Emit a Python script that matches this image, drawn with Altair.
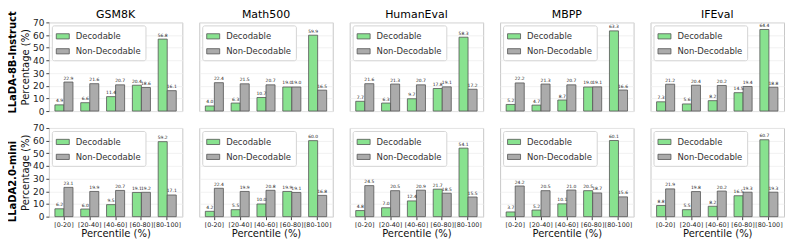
import altair as alt
import pandas as pd

percentiles = ["[0-20]", "[20-40]", "[40-60]", "[60-80]", "[80-100]"]
datasets = ["GSM8K", "Math500", "HumanEval", "MBPP", "IFEval"]
models = ["LLaDA-8B-Instruct", "LLaDA2.0-mini"]
series = ["Decodable", "Non-Decodable"]

# LLaDA-8B-Instruct
llada8b_decodable = {
    "GSM8K": [4.9, 6.6, 11.4, 20.4, 56.8],
    "Math500": [4.0, 6.3, 10.7, 19.0, 59.9],
    "HumanEval": [7.7, 6.3, 9.7, 17.8, 58.3],
    "MBPP": [5.2, 4.7, 8.7, 19.0, 63.3],
    "IFEval": [7.3, 5.6, 8.2, 14.5, 64.4],
}
llada8b_nondecodable = {
    "GSM8K": [22.9, 21.6, 20.7, 18.6, 16.1],
    "Math500": [22.4, 21.5, 20.7, 19.0, 16.5],
    "HumanEval": [21.6, 21.3, 20.7, 19.1, 17.2],
    "MBPP": [22.2, 21.3, 20.7, 19.1, 16.6],
    "IFEval": [21.2, 20.4, 20.2, 19.4, 18.8],
}
# LLaDA2.0-mini
llada2_decodable = {
    "GSM8K": [6.2, 6.0, 9.5, 19.1, 59.2],
    "Math500": [4.2, 5.5, 10.0, 19.9, 60.0],
    "HumanEval": [4.8, 7.0, 12.4, 21.7, 54.1],
    "MBPP": [3.7, 5.2, 10.1, 20.5, 60.1],
    "IFEval": [8.8, 5.5, 8.2, 16.5, 60.7],
}
llada2_nondecodable = {
    "GSM8K": [23.1, 19.9, 20.7, 19.2, 17.1],
    "Math500": [22.4, 19.9, 20.8, 19.1, 16.8],
    "HumanEval": [24.5, 20.5, 20.9, 18.5, 15.5],
    "MBPP": [24.2, 20.5, 21.0, 18.7, 15.6],
    "IFEval": [21.9, 19.8, 20.2, 19.3, 19.3],
}

model_data = [
    (llada8b_decodable, llada8b_nondecodable),
    (llada2_decodable, llada2_nondecodable),
]

GREEN = "#88E28F"
GRAY = "#ABABAB"
W, H = 134, 89
FONT = "DejaVu Sans"


def panel(row, col):
    ds = datasets[col]
    dec, nondec = model_data[row]
    recs = []
    for i, p in enumerate(percentiles):
        recs.append({"Percentile": p, "Series": "Decodable", "Value": dec[ds][i]})
        recs.append({"Percentile": p, "Series": "Non-Decodable", "Value": nondec[ds][i]})
    df = pd.DataFrame(recs)

    if row == 1:
        xaxis = alt.Axis(title="Percentile (%)", labelAngle=0, labelFontSize=6.4,
                         titleFontSize=10, titleFontWeight="normal", tickSize=3,
                         labelPadding=2, titlePadding=1, grid=False)
    else:
        xaxis = alt.Axis(title=None, labels=False, ticks=False, grid=False)

    if col == 0:
        yaxis = alt.Axis(title="Percentage (%)", values=list(range(0, 71, 10)),
                         labelFontSize=9, titleFontSize=10, titleFontWeight="normal",
                         tickSize=3, labelPadding=2, titlePadding=2, grid=True)
    else:
        yaxis = alt.Axis(title=None, labels=False, ticks=False,
                         values=list(range(0, 71, 10)), grid=True)

    base = alt.Chart(df).encode(
        x=alt.X("Percentile:N", sort=percentiles,
                scale=alt.Scale(paddingInner=0.3, paddingOuter=0.235), axis=xaxis),
        xOffset=alt.XOffset("Series:N", sort=series,
                            scale=alt.Scale(domain=series, paddingInner=0, paddingOuter=0)),
        y=alt.Y("Value:Q", scale=alt.Scale(domain=[0, 70], nice=False), axis=yaxis),
    )
    bars = base.mark_bar(stroke="#555555", strokeWidth=0.8).encode(
        color=alt.Color(
            "Series:N",
            scale=alt.Scale(domain=series, range=[GREEN, GRAY]),
            legend=alt.Legend(
                title=None, orient="top-left", offset=3, fillColor="white",
                strokeColor="#d4d4d4", cornerRadius=2, padding=4,
                labelFontSize=8.5, labelFont=FONT, labelColor="#333333",
                symbolType="M-1,-0.4H1V0.4H-1Z", symbolSize=170,
                symbolStrokeColor="#555555", symbolStrokeWidth=0.8,
                symbolOpacity=1, rowPadding=3, labelOffset=6,
            ),
        )
    )
    labels = base.mark_text(dy=-1.5, fontSize=4.5, baseline="bottom",
                            font=FONT, color="#222222").encode(
        text=alt.Text("Value:Q", format=".1f")
    )
    ch = alt.layer(bars, labels).properties(width=W, height=H)
    if row == 0:
        ch = ch.properties(title=alt.TitleParams(ds, fontSize=11, fontWeight="normal",
                                                 offset=(-2 if col == 0 else 2.5),
                                                 font=FONT))
    return ch


rows = []
for r in range(2):
    hc = alt.hconcat(*[panel(r, c) for c in range(5)], spacing=15).resolve_scale(
        color="independent").resolve_legend(color="independent").properties(
        title=alt.TitleParams(models[r], orient="left", anchor="middle",
                              fontSize=10, fontWeight="bold", offset=2, font=FONT))
    rows.append(hc)

chart = alt.vconcat(*rows, spacing=6).resolve_scale(
    color="independent").resolve_legend(color="independent").properties(
    padding={"left": 0, "top": 0, "right": 0, "bottom": 0}
).configure(font=FONT).configure_view(
    stroke="#c8c8c8", strokeWidth=1
).configure_axis(
    domain=False, gridColor="#ededed", gridWidth=0.8, labelFont=FONT, titleFont=FONT,
    labelColor="#222222", titleColor="#111111", tickColor="#444444"
)

chart.save("out.html", embed_options={"renderer": "svg", "actions": False})
